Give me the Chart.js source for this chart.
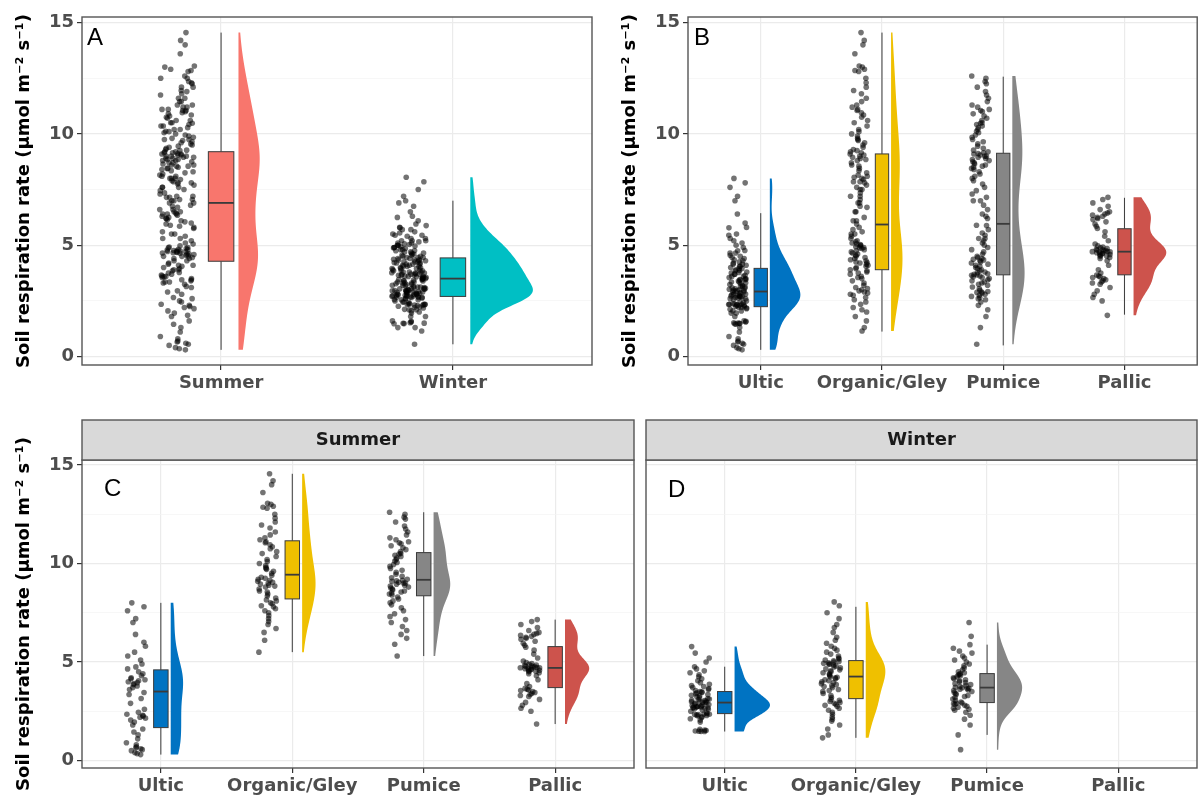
<!DOCTYPE html>
<html>
<head>
<meta charset="utf-8">
<script src="https://cdn.jsdelivr.net/npm/chart.js@4.4.1/dist/chart.umd.min.js"></script>
<style>
  body { margin: 0; background: #fff; }
  #wrap { position: relative; width: 1200px; height: 802px; }
  canvas { position: absolute; }
</style>
</head>
<body>
<div id="wrap">
  <canvas id="panelA" width="600" height="400" style="left:0;top:0"></canvas>
  <canvas id="panelB" width="594" height="400" style="left:606px;top:0"></canvas>
  <canvas id="panelC" width="640" height="402" style="left:0;top:400px"></canvas>
  <canvas id="panelD" width="560" height="402" style="left:640px;top:400px"></canvas>
</div>
<script>
const seasons = ['Summer', 'Winter'];
const soils = ['Ultic', 'Organic/Gley', 'Pumice', 'Pallic'];
const yTickValues = [0, 2.5, 5, 7.5, 10, 12.5, 15]; // labels only on multiples of 5
const yTitle = 'Soil respiration rate (μmol m⁻² s⁻¹)';

const seasonColours = ['#F8766D', '#00BFC4'];
const soilColours = ['#0073C2', '#EFC000', '#868686', '#CD534C'];

const summerUltic = [0.3, 0.35, 0.4, 0.5, 0.55, 0.6, 0.65, 0.7, 0.8, 0.9, 1.1, 1.3, 1.45, 1.6,
  1.8, 1.95, 2.05, 2.15, 2.2, 2.25, 2.3, 2.35, 2.45, 2.6, 2.9, 3.15, 3.35, 3.45,
  3.6, 3.7, 3.78, 3.85, 3.9, 3.95, 4.0, 4.05, 4.1, 4.15, 4.2, 4.3, 4.4, 4.5,
  4.65, 4.75, 4.9, 5.1, 5.3, 5.5, 5.8, 6.0, 6.4, 7.0, 7.2, 7.6, 7.8, 8.0];
const summerOrganic = [5.5, 6.1, 6.5, 6.7, 6.9, 7.05, 7.2, 7.35, 7.5, 7.6, 7.7, 7.8, 7.85, 7.95, 8.0, 8.1, 8.15,
  8.25, 8.35, 8.45, 8.55, 8.6, 8.7, 8.8, 8.85, 8.9, 8.95, 9.0, 9.05, 9.1, 9.15, 9.2, 9.25, 9.3, 9.4,
  9.5, 9.6, 9.7, 9.75, 9.8, 9.9, 10.0, 10.1, 10.2, 10.35, 10.5, 10.6, 10.75, 10.85, 10.95, 11.05, 11.1,
  11.2, 11.3, 11.45, 11.6, 11.8, 11.95, 12.1, 12.3, 12.5, 12.8, 12.85, 12.9, 13.0, 13.05, 13.6, 14.0, 14.2, 14.55];
const summerPumice = [5.3, 5.9, 6.2, 6.4, 6.6, 6.8, 7.0, 7.15, 7.3, 7.45, 7.6, 7.75, 7.9, 8.0, 8.1, 8.2, 8.3,
  8.4, 8.45, 8.5, 8.55, 8.6, 8.65, 8.7, 8.75, 8.8, 8.85, 8.9, 8.95, 9.0, 9.0, 9.05, 9.1, 9.12, 9.15,
  9.2, 9.27, 9.35, 9.45, 9.55, 9.65, 9.75, 9.85, 9.95, 10.05, 10.12, 10.2, 10.28, 10.35, 10.42, 10.48, 10.5,
  10.6, 10.7, 10.8, 10.9, 11.0, 11.05, 11.1, 11.2, 11.3, 11.45, 11.6, 11.75, 11.9, 12.1, 12.25, 12.35, 12.5, 12.6];
const summerPallic = [1.85, 2.5, 2.65, 2.8, 2.95, 3.1, 3.25, 3.3, 3.35, 3.4, 3.45, 3.5, 3.55, 3.58, 3.62, 3.66,
  3.75, 3.9, 4.1, 4.3, 4.4, 4.45, 4.5, 4.52, 4.55, 4.58, 4.6, 4.62, 4.64, 4.66, 4.68, 4.7,
  4.71, 4.72, 4.74, 4.76, 4.78, 4.8, 4.82, 4.85, 4.88, 4.92, 4.97, 5.05, 5.2, 5.4, 5.6, 5.75,
  5.85, 5.95, 6.05, 6.15, 6.2, 6.25, 6.3, 6.35, 6.4, 6.45, 6.5, 6.6, 6.75, 6.9, 7.05, 7.15];
const winterUltic = [1.47, 1.48, 1.49, 1.5, 1.52, 1.55, 1.58, 1.95, 2.05, 2.12, 2.18, 2.22, 2.26, 2.29, 2.31, 2.33, 2.34, 2.35, 2.36, 2.37,
  2.42, 2.5, 2.56, 2.6, 2.63, 2.65, 2.67, 2.68, 2.7, 2.71, 2.72, 2.73, 2.75, 2.77, 2.79, 2.81, 2.84, 2.87, 2.9, 2.93,
  2.95, 2.96, 2.98, 3.0, 3.02, 3.04, 3.06, 3.09, 3.12, 3.15, 3.19, 3.23, 3.27, 3.31, 3.35, 3.39, 3.43, 3.46, 3.48, 3.5,
  3.55, 3.6, 3.65, 3.7, 3.75, 3.8, 3.87, 3.95, 4.05, 4.15, 4.25, 4.35, 4.45, 4.55, 4.65, 4.76, 5.0, 5.2, 5.45, 5.78];
const winterOrganic = [1.15, 1.3, 1.6, 1.8, 2.0, 2.1, 2.2, 2.35, 2.45, 2.55, 2.65, 2.75, 2.8, 2.85, 2.9, 2.95, 3.0, 3.05, 3.1,
  3.2, 3.3, 3.4, 3.5, 3.55, 3.6, 3.7, 3.75, 3.8, 3.85, 3.9, 3.95, 4.0, 4.05, 4.1, 4.15, 4.2, 4.22, 4.25,
  4.3, 4.35, 4.4, 4.45, 4.5, 4.55, 4.6, 4.65, 4.7, 4.75, 4.8, 4.85, 4.88, 4.9, 4.93, 4.96, 5.0, 5.03, 5.06,
  5.1, 5.15, 5.2, 5.3, 5.4, 5.5, 5.6, 5.7, 5.8, 5.95, 6.1, 6.25, 6.5, 6.75, 6.9, 7.2, 7.5, 7.85, 8.05];
const winterPumice = [0.55, 1.3, 1.8, 2.1, 2.3, 2.45, 2.55, 2.6, 2.65, 2.7, 2.75, 2.8, 2.85, 2.88, 2.9, 2.92,
  2.97, 3.05, 3.12, 3.2, 3.25, 3.3, 3.35, 3.4, 3.45, 3.5, 3.55, 3.58, 3.62, 3.65, 3.67, 3.69,
  3.72, 3.76, 3.8, 3.85, 3.9, 3.95, 4.0, 4.05, 4.1, 4.15, 4.2, 4.25, 4.3, 4.34, 4.37, 4.4,
  4.45, 4.5, 4.6, 4.7, 4.8, 4.9, 5.0, 5.1, 5.2, 5.3, 5.45, 5.55, 5.7, 5.88, 6.3, 7.0];
const winterPallic = [];

// box statistics: [lower whisker, Q1, median, Q3, upper whisker]
const boxSeason = [[0.3, 4.28, 6.9, 9.2, 14.55], [0.55, 2.7, 3.5, 4.43, 7.0]];
const boxSoil = [[0.3, 2.24, 2.92, 3.96, 6.44], [1.12, 3.9, 5.93, 9.1, 14.55], [0.5, 3.67, 5.96, 9.13, 12.57], [1.88, 3.67, 4.71, 5.74, 7.13]];
const boxSummer = [[0.3, 1.67, 3.5, 4.6, 8.0], [5.5, 8.2, 9.43, 11.15, 14.55], [5.3, 8.36, 9.17, 10.55, 12.6], [1.85, 3.7, 4.7, 5.78, 7.15]];
const boxWinter = [[1.47, 2.38, 2.94, 3.5, 4.76], [1.15, 3.14, 4.26, 5.07, 7.8], [1.3, 2.94, 3.7, 4.41, 5.88], null];

const FONT = 'DejaVu Sans';
const AXIS_GREY = '#4d4d4d';
const POINT_SHIFT = -0.19, JITTER = 0.075, VIOLIN_SHIFT = 0.075, VIOLIN_W = 0.27, BOX_W = 0.11;

function quantile(s, p) {
  const h = (s.length - 1) * p, lo = Math.floor(h);
  const hi = Math.min(lo + 1, s.length - 1);
  return s[lo] + (h - lo) * (s[hi] - s[lo]);
}

// gaussian kde, bw.nrd0, trimmed to the data range like the flat violins
function density(values) {
  if (!values.length) return null;
  const s = values.slice().sort((a, b) => a - b);
  const n = s.length;
  const mean = s.reduce((a, b) => a + b, 0) / n;
  const sd = Math.sqrt(s.reduce((a, b) => a + (b - mean) ** 2, 0) / (n - 1));
  const iqr = quantile(s, 0.75) - quantile(s, 0.25);
  const bw = 0.9 * Math.min(sd, iqr / 1.34) * Math.pow(n, -0.2);
  const ys = [], ds = [];
  for (let k = 0; k < 128; k++) {
    const y = s[0] + (s[n - 1] - s[0]) * k / 127;
    let d = 0;
    for (const v of s) d += Math.exp(-0.5 * ((y - v) / bw) ** 2);
    ys.push(y);
    ds.push(d / (n * bw * Math.sqrt(2 * Math.PI)));
  }
  return { ys, ds };
}

function maxDensity(list) {
  return Math.max(...list.filter(Boolean).map(d => Math.max(...d.ds)));
}

// horizontal spread only (the jitter), fixed per index so every run looks the same
function spread(i, g) {
  const s = Math.sin((i + 1) * 12.9898 + (g + 1) * 78.233) * 43758.5453;
  return s - Math.floor(s);
}

function makePanel(id, spec) {
  const points = [];
  spec.groups.forEach((vals, g) => {
    vals.forEach((v, i) => {
      points.push({ x: g + 1 + POINT_SHIFT + (spread(i, g) * 2 - 1) * JITTER, y: v });
    });
  });

  const rain = {
    id: 'rain' + id,
    beforeDatasetsDraw(chart) {
      const { ctx, scales: { x, y } } = chart;
      ctx.save();
      spec.densities.forEach((dens, g) => {
        if (!dens) return;
        const x0 = g + 1 + VIOLIN_SHIFT;
        ctx.beginPath();
        ctx.moveTo(x.getPixelForValue(x0), y.getPixelForValue(dens.ys[0]));
        dens.ys.forEach((v, k) => {
          ctx.lineTo(x.getPixelForValue(x0 + dens.ds[k] * spec.violinScale), y.getPixelForValue(v));
        });
        ctx.lineTo(x.getPixelForValue(x0), y.getPixelForValue(dens.ys[dens.ys.length - 1]));
        ctx.closePath();
        ctx.fillStyle = spec.colours[g];
        ctx.fill();
      });
      spec.boxes.forEach((b, g) => {
        if (!b) return;
        const cx = x.getPixelForValue(g + 1);
        const l = x.getPixelForValue(g + 1 - BOX_W / 2);
        const r = x.getPixelForValue(g + 1 + BOX_W / 2);
        const top = y.getPixelForValue(b[3]), bot = y.getPixelForValue(b[1]);
        ctx.strokeStyle = '#3a3a3a';
        ctx.lineWidth = 1;
        ctx.beginPath();
        ctx.moveTo(cx, y.getPixelForValue(b[0]));
        ctx.lineTo(cx, bot);
        ctx.moveTo(cx, top);
        ctx.lineTo(cx, y.getPixelForValue(b[4]));
        ctx.stroke();
        ctx.fillStyle = spec.colours[g];
        ctx.fillRect(l, top, r - l, bot - top);
        ctx.strokeRect(l, top, r - l, bot - top);
        const m = y.getPixelForValue(b[2]);
        ctx.lineWidth = 1.8;
        ctx.beginPath();
        ctx.moveTo(l, m);
        ctx.lineTo(r, m);
        ctx.stroke();
      });
      ctx.restore();
    },
    afterDraw(chart) {
      const { ctx, chartArea: a } = chart;
      ctx.save();
      ctx.strokeStyle = '#555';
      ctx.lineWidth = 1.4;
      ctx.strokeRect(a.left, a.top, a.right - a.left, a.bottom - a.top);
      if (spec.strip) {
        ctx.fillStyle = '#d9d9d9';
        ctx.fillRect(a.left, a.top - 40, a.right - a.left, 40);
        ctx.strokeRect(a.left, a.top - 40, a.right - a.left, 40);
        ctx.fillStyle = '#1a1a1a';
        ctx.font = 'bold 18px "' + FONT + '"';
        ctx.textAlign = 'center';
        ctx.textBaseline = 'middle';
        ctx.fillText(spec.strip, (a.left + a.right) / 2, a.top - 20);
      }
      ctx.fillStyle = '#000';
      ctx.font = '24px "Liberation Sans"';
      ctx.textAlign = 'left';
      ctx.textBaseline = 'alphabetic';
      ctx.fillText(spec.letter, a.left + spec.letterAt[0], a.top + spec.letterAt[1]);
      ctx.restore();
    }
  };

  const tickFont = { family: FONT, size: 18, weight: 'bold' };
  const minor = c => c.tick && c.tick.value % 5 !== 0;

  new Chart(document.getElementById(id), {
    type: 'scatter',
    data: {
      datasets: [{
        data: points,
        backgroundColor: 'rgba(0,0,0,0.55)',
        borderWidth: 0,
        pointRadius: 2.8,
        pointHoverRadius: 2.8
      }]
    },
    options: {
      responsive: false,
      animation: false,
      layout: { padding: spec.padding },
      plugins: { legend: { display: false }, tooltip: { enabled: false } },
      scales: {
        x: {
          type: 'linear',
          bounds: 'data',
          min: 0.4,
          max: spec.cats.length + 0.6,
          afterBuildTicks: s => { s.ticks = spec.cats.map((c, i) => ({ value: i + 1 })); },
          afterFit: s => { s.height = spec.xHeight; },
          ticks: { autoSkip: false, maxRotation: 0, padding: 3, color: AXIS_GREY, font: tickFont,
                   callback: v => spec.cats[v - 1] },
          grid: { color: '#ebebeb', lineWidth: 1.2, tickColor: '#333', tickLength: 5 },
          border: { display: false }
        },
        y: {
          bounds: 'data',
          min: -0.38,
          max: 15.25,
          afterBuildTicks: s => { s.ticks = yTickValues.map(v => ({ value: v })); },
          afterFit: s => { s.width = spec.yWidth; },
          ticks: { display: spec.showY, padding: 3, color: AXIS_GREY, font: tickFont,
                   callback: v => (v % 5 === 0 ? String(v) : '') },
          grid: {
            color: c => (minor(c) ? '#f3f3f3' : '#ebebeb'),
            lineWidth: c => (minor(c) ? 0.7 : 1.2),
            tickColor: c => (minor(c) ? 'rgba(0,0,0,0)' : '#333'),
            tickLength: 5,
            drawTicks: spec.showY
          },
          title: { display: spec.showY, text: yTitle, color: '#000', font: tickFont, padding: { top: 14, bottom: 0 } },
          border: { display: false }
        }
      }
    },
    plugins: [rain]
  });
}

const seasonGroups = [
  summerUltic.concat(summerOrganic, summerPumice, summerPallic),
  winterUltic.concat(winterOrganic, winterPumice, winterPallic)
];
const soilGroups = [
  summerUltic.concat(winterUltic),
  summerOrganic.concat(winterOrganic),
  summerPumice.concat(winterPumice),
  summerPallic.concat(winterPallic)
];
const summerGroups = [summerUltic, summerOrganic, summerPumice, summerPallic];
const winterGroups = [winterUltic, winterOrganic, winterPumice, winterPallic];

const densA = seasonGroups.map(density);
const densB = soilGroups.map(density);
const densC = summerGroups.map(density);
const densD = winterGroups.map(density);
const scaleCD = VIOLIN_W / maxDensity(densC.concat(densD));

makePanel('panelA', {
  cats: seasons, groups: seasonGroups, boxes: boxSeason, colours: seasonColours,
  densities: densA, violinScale: VIOLIN_W / maxDensity(densA),
  letter: 'A', letterAt: [5, 28], showY: true, yWidth: 82, xHeight: 35,
  padding: { left: 0, right: 8, top: 17, bottom: 0 }
});
makePanel('panelB', {
  cats: soils, groups: soilGroups, boxes: boxSoil, colours: soilColours,
  densities: densB, violinScale: VIOLIN_W / maxDensity(densB),
  letter: 'B', letterAt: [6, 28], showY: true, yWidth: 82, xHeight: 35,
  padding: { left: 0, right: 2, top: 17, bottom: 0 }
});
makePanel('panelC', {
  cats: soils, groups: summerGroups, boxes: boxSummer, colours: soilColours,
  densities: densC, violinScale: scaleCD, strip: 'Summer',
  letter: 'C', letterAt: [22, 36], showY: true, yWidth: 82, xHeight: 34,
  padding: { left: 0, right: 6, top: 60, bottom: 0 }
});
makePanel('panelD', {
  cats: soils, groups: winterGroups, boxes: boxWinter, colours: soilColours,
  densities: densD, violinScale: scaleCD, strip: 'Winter',
  letter: 'D', letterAt: [22, 37], showY: false, yWidth: 0, xHeight: 34,
  padding: { left: 6, right: 3, top: 60, bottom: 0 }
});
</script>
</body>
</html>
